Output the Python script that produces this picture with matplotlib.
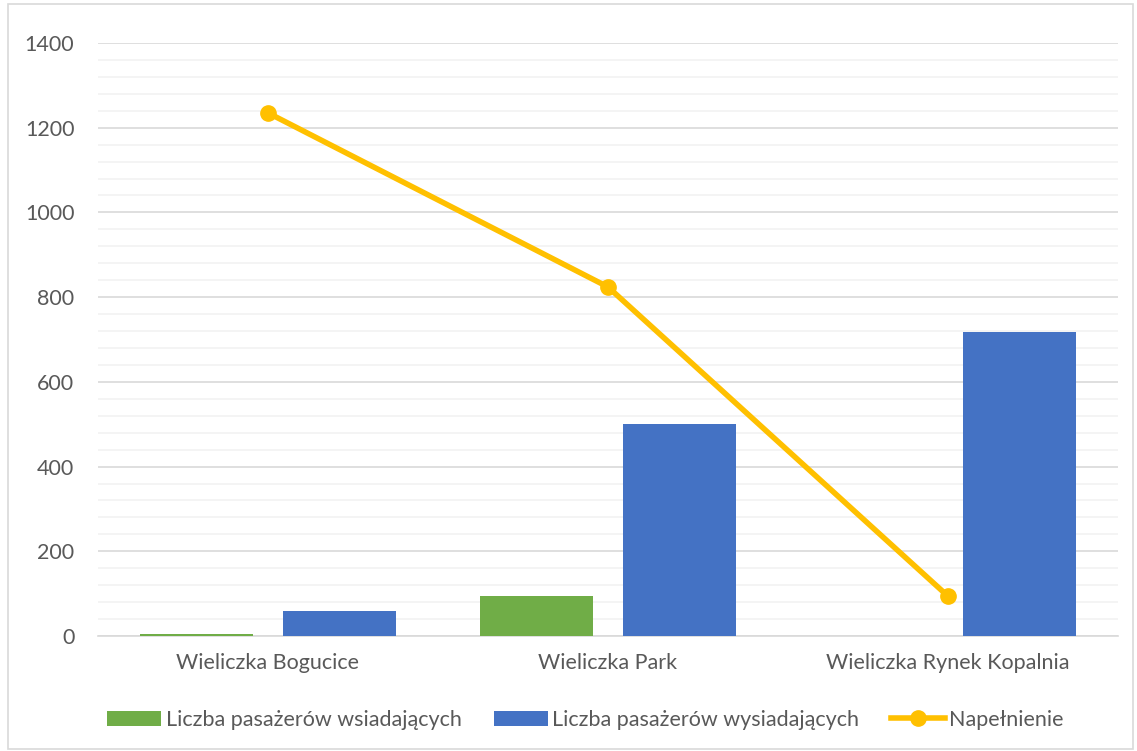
import numpy as np
import matplotlib
matplotlib.use("Agg")
import matplotlib.pyplot as plt
from matplotlib.patches import Rectangle

plt.rcParams["font.family"] = ["Lato", "DejaVu Sans"]

stops = ["Wieliczka Bogucice", "Wieliczka Park", "Wieliczka Rynek Kopalnia"]
boarding = [4, 94, 0]          # Liczba pasażerów wsiadających
alighting = [58, 500, 718]     # Liczba pasażerów wysiadających
load = [1235, 824, 94]         # Napełnienie

GREEN = "#70AD47"; BLUE = "#4472C4"; YELLOW = "#FFC000"; TXT = "#595959"

fig = plt.figure(figsize=(11.37, 7.51), dpi=100)
ax = fig.add_axes([98/1137, 1-636/751, (1118-98)/1137, (636-43)/751])

x = np.arange(len(stops))
w = 0.333
b1 = ax.bar(x - 0.21, boarding, w, color=GREEN, label="Liczba pasażerów wsiadających", zorder=3)
b2 = ax.bar(x + 0.21, alighting, w, color=BLUE, label="Liczba pasażerów wysiadających", zorder=3)
l1, = ax.plot(x, load, "-o", color=YELLOW, lw=4, ms=11, label="Napełnienie", zorder=4)

ax.set_xlim(-0.5, 2.5)
ax.set_ylim(0, 1400)
ax.set_yticks(np.arange(0, 1401, 200))
ax.set_yticks(np.arange(0, 1401, 40), minor=True)
ax.grid(axis="y", which="major", color="#D9D9D9", lw=1.2, zorder=0)
ax.grid(axis="y", which="minor", color="#F2F2F2", lw=1.2, zorder=0)
ax.set_xticks(x)
ax.set_xticklabels(stops)
ax.tick_params(axis="both", which="both", length=0, labelsize=15.5, colors=TXT, pad=12)
ax.tick_params(axis="y", pad=17)
for s in ["top", "right", "left"]:
    ax.spines[s].set_visible(False)
ax.spines["bottom"].set_color("#D9D9D9")
ax.spines["bottom"].set_linewidth(1.2)

leg = ax.legend(handles=[b1, b2, l1], loc="center", bbox_to_anchor=(0.478, (636-720)/593), ncol=3,
                frameon=False, fontsize=15.5, handlelength=2.5, handletextpad=0.2, columnspacing=1.5)
for t in leg.get_texts():
    t.set_color(TXT)

fig.patches.append(Rectangle((8/1137, 2/751), 1125/1137, 745/751, transform=fig.transFigure,
                             fill=False, edgecolor="#D9D9D9", lw=1.2))

fig.savefig("out.png", dpi=100)
